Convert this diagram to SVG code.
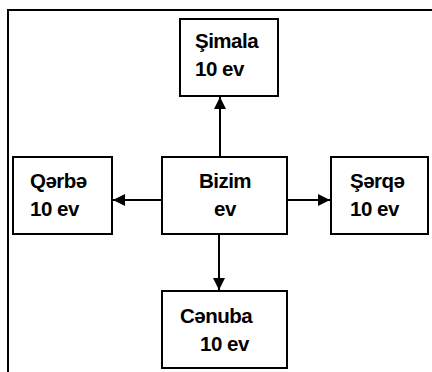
<svg xmlns="http://www.w3.org/2000/svg" width="432" height="372" viewBox="0 0 432 372">
<style>
.box{fill:#fff;stroke:#000;stroke-width:2}
.t{font-family:"Liberation Sans",Arial,sans-serif;font-weight:bold;font-size:20.5px;fill:#000;letter-spacing:-0.5px}
.c{stroke:#000;stroke-width:2;fill:none}
</style>
<defs>
<marker id="ah" markerUnits="userSpaceOnUse" markerWidth="12" markerHeight="12" viewBox="0 0 12 12" refX="12" refY="6" orient="auto">
<path d="M0,0 L12,6 L0,12 Z" fill="#000"/>
</marker>
</defs>
<rect width="432" height="372" fill="#fff"/>
<path d="M8,372 V10 H432" class="c"/>
<g id="connectors">
<line class="c" x1="220" y1="157" x2="220" y2="97" marker-end="url(#ah)"/>
<line class="c" x1="162" y1="200" x2="113" y2="200" marker-end="url(#ah)"/>
<line class="c" x1="287" y1="200" x2="330" y2="200" marker-end="url(#ah)"/>
<line class="c" x1="219" y1="234" x2="219" y2="290" marker-end="url(#ah)"/>
</g>
<g id="simala">
<rect class="box" x="180" y="19" width="98" height="77"/>
<text class="t" x="195" y="48">Şimala</text>
<text class="t" x="195" y="76">10 ev</text>
</g>
<g id="qerbe">
<rect class="box" x="13" y="157" width="99" height="77"/>
<text class="t" x="30" y="188">Qərbə</text>
<text class="t" x="30" y="216">10 ev</text>
</g>
<g id="bizim">
<rect class="box" x="162" y="157" width="125" height="77"/>
<text class="t" x="225" y="188" text-anchor="middle">Bizim</text>
<text class="t" x="225" y="216" text-anchor="middle">ev</text>
</g>
<g id="serqe">
<rect class="box" x="331" y="157" width="97" height="77"/>
<text class="t" x="350" y="188">Şərqə</text>
<text class="t" x="350" y="216">10 ev</text>
</g>
<g id="cenuba">
<rect class="box" x="162" y="291" width="125" height="77"/>
<text class="t" x="180" y="323">Cənuba</text>
<text class="t" x="200" y="351">10 ev</text>
</g>
</svg>
